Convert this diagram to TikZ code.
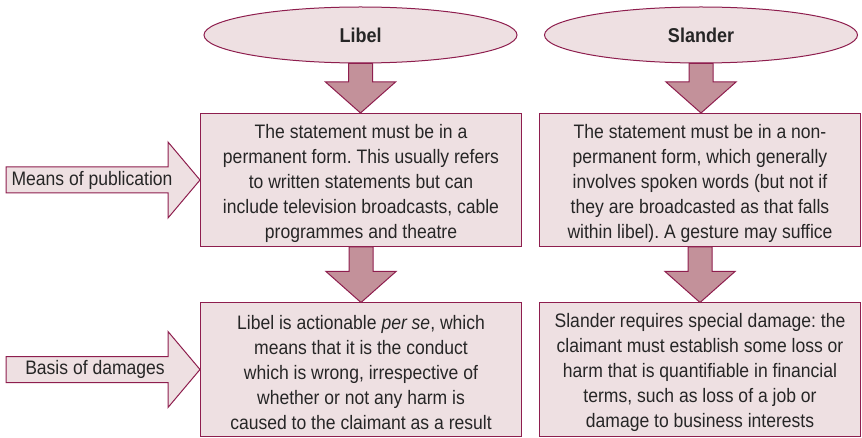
\documentclass[tikz,border=0pt]{standalone}
\usepackage{fontspec}
\setmainfont{Liberation Sans}[FakeStretch=0.9]
\usetikzlibrary{calc,shapes.geometric}
\frenchspacing

\definecolor{rim}{HTML}{8E1E4E}
\definecolor{pale}{HTML}{EEE0E2}
\definecolor{mauve}{HTML}{C3919A}

\tikzset{
  heading/.style={ellipse, draw=rim, fill=pale, line width=1pt, inner sep=0pt,
    minimum width=313pt, minimum height=56pt,
    font=\bfseries\fontsize{20}{24}\selectfont, text=black!85},
  infobox/.style={rectangle, draw=rim, fill=pale, line width=1pt, inner sep=0pt,
    minimum width=321pt, minimum height=133pt, align=center,
    font=\fontsize{19.5}{25}\selectfont, text=black!85},
  boxtext/.style={inner sep=0pt, align=center,
    font=\fontsize{19.5}{25}\selectfont, text=black!85},
  flow/.style={draw=rim, fill=mauve, line width=1pt, line join=miter},
  tagarrow/.style={draw=rim, fill=pale, line width=1pt, line join=miter},
  tag/.style={inner sep=0pt, font=\fontsize{19.5}{22}\selectfont, text=black!85}
}

% vertical block arrow from the bottom of one node to the top of the next
\newcommand\blockdown[2]{%
  \coordinate (tip) at (#1.south |- #2.north);
  \draw[flow] ($(#1.south)+(-12,0)$) -- ($(tip)+(-12,-31)$) -- ($(tip)+(-35,-31)$)
    -- (tip) -- ($(tip)+(35,-31)$) -- ($(tip)+(12,-31)$) -- ($(#1.south)+(12,0)$) -- cycle;}

% horizontal block arrow pointing at the west side of a node
\newcommand\blockright[1]{%
  \draw[tagarrow] ($(#1.west)+(-194,-13)$) -- ($(#1.west)+(-32,-13)$) -- ($(#1.west)+(-32,-38)$)
    -- (#1.west) -- ($(#1.west)+(-32,38)$) -- ($(#1.west)+(-32,13)$) -- ($(#1.west)+(-194,13)$) -- cycle;}

\begin{document}
\begin{tikzpicture}[x=1pt, y=-1pt]
\useasboundingbox (0,0) rectangle (862,438);

% column headings
\node[heading] (libel) at (360.5,35) {Libel};
\node[heading] (slander) at (701,35) {Slander};

% boxes
\node[infobox] (lform) at (361,180) {};
\node[infobox] (ldmg) at (361,369.5) {};
\node[infobox] (sform) at (700,180) {};
\node[infobox] (sdmg) at (700,369.5) {};

% libel column text
\node[boxtext] (lformtext) at ($(lform.center)+(0,3)$) {The statement must be in a\\
  permanent form. This usually refers\\
  to written statements but can\\
  include television broadcasts, cable\\
  programmes and theatre};
\node[boxtext] (ldmgtext) at ($(ldmg.center)+(0,3)$) {Libel is actionable \textit{per se}, which\\
  means that it is the conduct\\
  which is wrong, irrespective of\\
  whether or not any harm is\\
  caused to the claimant as a result};

% slander column text
\node[boxtext] (sformtext) at ($(sform.center)+(0,3)$) {The statement must be in a non-\\
  permanent form, which generally\\
  involves spoken words (but not if\\
  they are broadcasted as that falls\\
  within libel). A gesture may suffice};
\node[boxtext] (sdmgtext) at ($(sdmg.center)+(0,3)$) {Slander requires special damage: the\\
  claimant must establish some loss or\\
  harm that is quantifiable in financial\\
  terms, such as loss of a job or\\
  damage to business interests};

% flow arrows
\blockdown{libel}{lform}
\blockdown{lform}{ldmg}
\blockdown{slander}{sform}
\blockdown{sform}{sdmg}

% row labels
\blockright{lform}
\blockright{ldmg}
\node[tag] (pubtag) at ($(lform.west)+(-108,0)$) {Means of publication};
\node[tag] (dmgtag) at ($(ldmg.west)+(-105,0)$) {Basis of damages};
\end{tikzpicture}
\end{document}
